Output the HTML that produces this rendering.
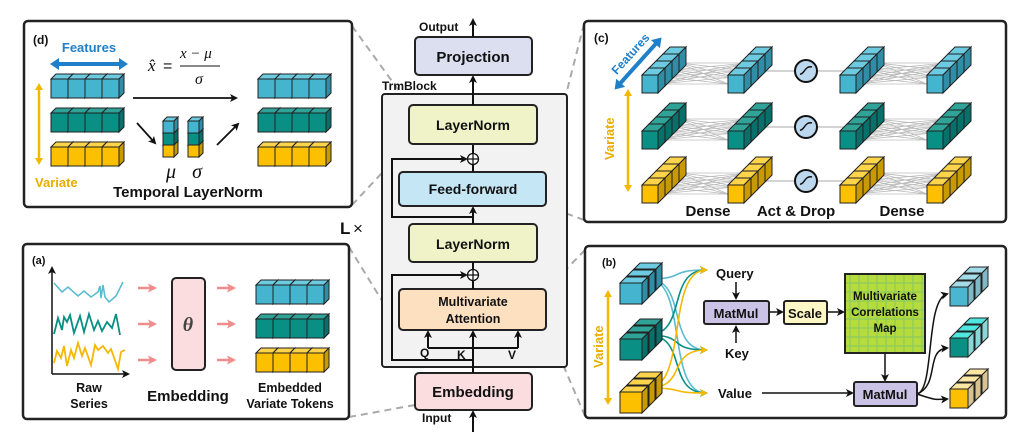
<!DOCTYPE html>
<html><head><meta charset="utf-8"><style>
html,body{margin:0;padding:0;background:#fff;width:1031px;height:434px;overflow:hidden}
svg{display:block}
text{font-family:"Liberation Sans",sans-serif;font-weight:bold;fill:#111}
.s{font-family:"Liberation Serif",serif;font-style:italic;font-weight:normal}
</style></head><body>
<svg id="sv" width="1031" height="434" viewBox="0 0 1031 434" xmlns="http://www.w3.org/2000/svg">
<defs>
<marker id="ah" markerWidth="8" markerHeight="8" refX="6" refY="4" orient="auto" markerUnits="userSpaceOnUse"><path d="M0,0 L8,4 L0,8 L2,4Z" fill="#111"/></marker>
<marker id="ahp" markerWidth="9" markerHeight="9" refX="7" refY="4.5" orient="auto" markerUnits="userSpaceOnUse"><path d="M0,0 L9,4.5 L0,9 L2,4.5Z" fill="#f08c8c"/></marker>
<marker id="ahy" markerWidth="8" markerHeight="8" refX="6" refY="4" orient="auto" markerUnits="userSpaceOnUse"><path d="M0,0 L8,4 L0,8 L2,4Z" fill="#f5b800"/></marker>
<marker id="aht" markerWidth="8" markerHeight="8" refX="6" refY="4" orient="auto" markerUnits="userSpaceOnUse"><path d="M0,0 L8,4 L0,8 L2,4Z" fill="#5bbccf"/></marker>
<marker id="ahg" markerWidth="8" markerHeight="8" refX="6" refY="4" orient="auto" markerUnits="userSpaceOnUse"><path d="M0,0 L8,4 L0,8 L2,4Z" fill="#0a8f85"/></marker>
<pattern id="grid" width="9" height="9" patternUnits="userSpaceOnUse"><rect width="9" height="9" fill="#b5dc3c"/><path d="M0,4H9M4,0V9" stroke="#7cc06a" stroke-width="1.2" opacity="0.7"/></pattern>
</defs>
<g stroke="#aaa" stroke-width="2" stroke-dasharray="7,5" fill="none">
<path d="M352,26 L410,106"/><path d="M352,205 L410,143"/>
<path d="M349,247 L400,330"/><path d="M349,417 L415,405"/>
<path d="M584,24 L546,173"/><path d="M584,220 L546,206"/>
<path d="M585,250 L546,290"/><path d="M585,416 L546,325"/>
</g>
<g stroke="#222" stroke-width="2.5" fill="#fff">
<rect x="24" y="21" width="328" height="186" rx="4"/>
<rect x="23" y="244" width="326" height="175" rx="4"/>
<rect x="584" y="21" width="422" height="201" rx="4"/>
<rect x="585" y="246" width="421" height="172" rx="4"/>
</g>
<rect x="382" y="94" width="185" height="273" rx="3" fill="#f2f2f2" stroke="#222" stroke-width="2"/>
<text x="382" y="90" font-size="12">TrmBlock</text>
<g stroke="#222" stroke-width="2">
<rect x="415" y="37" width="117" height="38" rx="4" fill="#dcdff0"/>
<rect x="409" y="105" width="128" height="39" rx="4" fill="#f0f3c8"/>
<rect x="399" y="172" width="147" height="34" rx="4" fill="#c5e6f5"/>
<rect x="409" y="224" width="128" height="38" rx="4" fill="#f0f3c8"/>
<rect x="399" y="289" width="147" height="41" rx="4" fill="#fde0c0"/>
<rect x="415" y="373" width="117" height="37" rx="4" fill="#fbdde0"/>
</g>
<g stroke="#111" stroke-width="2" fill="none">
<path d="M473,373 V332" marker-end="url(#ah)"/>
<path d="M428,348 V332" marker-end="url(#ah)"/><path d="M518,348 V332" marker-end="url(#ah)"/>
<path d="M428,348 H518"/>
<path d="M473,360 H392 V275 H466" marker-end="url(#ah)"/>
<path d="M473,289 V281" /><path d="M473,269 V262"/>
<path d="M473,224 V208" marker-end="url(#ah)"/>
<path d="M473,217 H392 V159 H466" marker-end="url(#ah)"/>
<path d="M473,172 V165"/><path d="M473,153 V145"/>
<path d="M473,105 V77" marker-end="url(#ah)"/>
<path d="M473,37 V20" marker-end="url(#ah)"/>
<path d="M473,432 V412" marker-end="url(#ah)"/>
</g>
<g stroke="#111" stroke-width="1.3" fill="#fff"><circle cx="473" cy="159" r="5.5"/><path d="M467.5,159H478.5M473,153.5V164.5"/><circle cx="473" cy="275" r="5.5"/><path d="M467.5,275H478.5M473,269.5V280.5"/></g>
<text x="473" y="62" font-size="15" text-anchor="middle">Projection</text>
<text x="473" y="130" font-size="14" text-anchor="middle">LayerNorm</text>
<text x="473" y="194" font-size="14" text-anchor="middle">Feed-forward</text>
<text x="473" y="249" font-size="14" text-anchor="middle">LayerNorm</text>
<text x="473" y="306" font-size="12.5" text-anchor="middle">Multivariate</text>
<text x="473" y="323" font-size="12.5" text-anchor="middle">Attention</text>
<text x="473" y="397" font-size="15" text-anchor="middle">Embedding</text>
<text x="419" y="31" font-size="12">Output</text>
<text x="422" y="422" font-size="12">Input</text>
<text x="420" y="357" font-size="12">Q</text><text x="457" y="359" font-size="12">K</text><text x="508" y="359" font-size="12">V</text>
<text x="340" y="234" font-size="17" style="font-weight:bold">L</text><text x="353" y="234" font-size="17" style="font-weight:normal">×</text>

<text x="33" y="44" font-size="12">(d)</text>
<text x="89" y="52" font-size="13" text-anchor="middle" style="fill:#1f7fc8">Features</text>
<path d="M56,64 H122" stroke="#1f7fc8" stroke-width="4"/>
<path d="M50,64 l9,-6 v12z M128,64 l-9,-6 v12z" fill="#1f7fc8"/>
<path d="M39,88 V160" stroke="#f5b800" stroke-width="2.5"/>
<path d="M39,83 l-4,7 h8z M39,165 l-4,-7 h8z" fill="#f5b800"/>
<text x="35" y="187" font-size="13" style="fill:#e8ad00">Variate</text>
<text x="148" y="71" class="s" font-size="17">x̂</text><text x="163" y="71" font-size="16" style="font-weight:normal">=</text>
<text x="180" y="58" class="s" font-size="15">x − μ</text>
<path d="M180,66 H220" stroke="#111" stroke-width="1"/>
<text x="195" y="84" class="s" font-size="16">σ</text>
<path d="M133,98 H236" stroke="#111" stroke-width="1.8" marker-end="url(#ah)"/>
<path d="M137,123 L155,143" stroke="#111" stroke-width="1.8" marker-end="url(#ah)"/>
<path d="M217,145 L238,124" stroke="#111" stroke-width="1.8" marker-end="url(#ah)"/>
<text x="171" y="178" class="s" font-size="20" text-anchor="middle">μ</text>
<text x="197" y="178" class="s" font-size="20" text-anchor="middle">σ</text>
<text x="188" y="197" font-size="15" text-anchor="middle">Temporal LayerNorm</text>

<text x="32" y="264" font-size="11">(a)</text>
<path d="M52,374 V268" stroke="#111" stroke-width="1.5" marker-end="url(#ah)"/>
<path d="M52,374 H128" stroke="#111" stroke-width="1.5" marker-end="url(#ah)"/>
<polyline fill="none" stroke="#5bbccf" stroke-width="1.6" points="54,283 62,292 68,287 78,296 84,291 91,297 98,292 100,286 101,298 103,285 105,297 109,302 116,296 123,282"/>
<polyline fill="none" stroke="#0a8f85" stroke-width="1.8" points="54,334 58,318 62,330 64,317 67,322 70,315 74,333 80,316 84,332 89,314 94,330 98,321 102,331 107,322 112,328 116,314 120,335"/>
<polyline fill="none" stroke="#f5b800" stroke-width="1.8" points="54,363 57,351 61,358 64,346 67,366 71,350 74,358 78,343 82,356 85,348 91,365 95,345 98,350 103,346 108,353 111,349 118,369 121,352 125,350"/>
<g stroke="#f08c8c" stroke-width="2.5"><path d="M138,288 H155" marker-end="url(#ahp)"/><path d="M138,324 H155" marker-end="url(#ahp)"/><path d="M138,360 H155" marker-end="url(#ahp)"/><path d="M217,288 H234" marker-end="url(#ahp)"/><path d="M217,324 H234" marker-end="url(#ahp)"/><path d="M217,360 H234" marker-end="url(#ahp)"/></g>
<rect x="172" y="278" width="33" height="92" rx="4" fill="#fbdde0" stroke="#222" stroke-width="2"/>
<text x="188" y="331" class="s" font-size="20" text-anchor="middle" style="font-weight:bold;fill:#444">θ</text>
<text x="89" y="392" font-size="12.5" text-anchor="middle">Raw</text>
<text x="89" y="408" font-size="12.5" text-anchor="middle">Series</text>
<text x="188" y="401" font-size="15" text-anchor="middle">Embedding</text>
<text x="290" y="392" font-size="12.5" text-anchor="middle">Embedded</text>
<text x="290" y="408" font-size="12.5" text-anchor="middle">Variate Tokens</text>

<text x="594" y="42" font-size="12">(c)</text>
<g id="cz"></g>
<g transform="translate(616,88) rotate(-48)"><path d="M4,0 H62" stroke="#1f7fc8" stroke-width="4"/><path d="M-2,0 l9,-6 v12z M68,0 l-9,-6 v12z" fill="#1f7fc8"/><text x="10" y="-8" font-size="12" style="fill:#1f7fc8">Features</text></g>
<path d="M628,94 V186" stroke="#f5b800" stroke-width="2.5"/>
<path d="M628,89 l-4,7 h8z M628,192 l-4,-7 h8z" fill="#f5b800"/>
<text transform="translate(614,160) rotate(-90)" font-size="13" style="fill:#e8ad00">Variate</text>
<text x="708" y="216" font-size="15" text-anchor="middle">Dense</text>
<text x="796" y="216" font-size="15" text-anchor="middle">Act &amp; Drop</text>
<text x="902" y="216" font-size="15" text-anchor="middle">Dense</text>

<text x="602" y="266" font-size="11">(b)</text>
<path d="M608,295 V400" stroke="#f5b800" stroke-width="2.5"/>
<path d="M608,290 l-4,7 h8z M608,405 l-4,-7 h8z" fill="#f5b800"/>
<text transform="translate(603,368) rotate(-90)" font-size="13" style="fill:#e8ad00">Variate</text>
<g id="bz"></g>
<text x="716" y="278" font-size="13">Query</text>
<text x="725" y="358" font-size="13">Key</text>
<text x="718" y="398" font-size="13">Value</text>
<g stroke="#111" stroke-width="1.5" fill="none">
<path d="M736,282 V298" marker-end="url(#ah)"/><path d="M736,343 V327" marker-end="url(#ah)"/>
<path d="M769,312 H782" marker-end="url(#ah)"/><path d="M827,312 H843" marker-end="url(#ah)"/>
<path d="M885,353 V380" marker-end="url(#ah)"/><path d="M762,393 H852" marker-end="url(#ah)"/>
<path d="M917,394 C935,390 925,300 947,294" marker-end="url(#ah)"/>
<path d="M917,394 C940,385 925,350 947,348" marker-end="url(#ah)"/>
<path d="M917,394 C935,400 935,400 947,399" marker-end="url(#ah)"/>
</g>
<rect x="704" y="301" width="65" height="23" rx="2" fill="#cbc3e6" stroke="#222" stroke-width="2"/>
<rect x="784" y="301" width="43" height="23" rx="2" fill="#fdf7c6" stroke="#222" stroke-width="2"/>
<rect x="845" y="274" width="80" height="79" fill="url(#grid)" stroke="#222" stroke-width="2"/>
<rect x="854" y="382" width="63" height="24" rx="2" fill="#cbc3e6" stroke="#222" stroke-width="2"/>
<text x="736" y="318" font-size="13" text-anchor="middle">MatMul</text>
<text x="805" y="318" font-size="13" text-anchor="middle">Scale</text>
<text x="885" y="300" font-size="11.5" text-anchor="middle">Multivariate</text>
<text x="885" y="316" font-size="11.5" text-anchor="middle">Correlations</text>
<text x="885" y="332" font-size="11.5" text-anchor="middle">Map</text>
<text x="885" y="399" font-size="13" text-anchor="middle">MatMul</text>
<g id="hz"></g>
</svg>
<script>
var NS="http://www.w3.org/2000/svg";
var C={b:["#44b4cf","#6ccbe0","#2f8ea6"],t:["#0a8f85","#2fa398","#06706a"],y:["#fcc000","#fdd44a","#c99a00"],
bl:["#4bb6d0","#a4dbe8","#7fb8c6"],tl:["#0a8f85","#4de6e0","#88d8d8"],yl:["#fcc000","#fde7a2","#d7c390"]};
function add(g,tag,at){var e=document.createElementNS(NS,tag);for(var k in at)e.setAttribute(k,at[k]);g.appendChild(e);return e;}
function cube(g,x,y,w,h,d,c){
 add(g,"polygon",{points:[x,y,x+d,y-d,x+w+d,y-d,x+w,y].join(","),fill:c[1],stroke:"#222","stroke-width":1});
 add(g,"polygon",{points:[x+w,y,x+w+d,y-d,x+w+d,y+h-d,x+w,y+h].join(","),fill:c[2],stroke:"#222","stroke-width":1});
 add(g,"rect",{x:x,y:y,width:w,height:h,fill:c[0],stroke:"#222","stroke-width":1});
}
function hbar(g,x,y,w,h,d,c,n){for(var i=0;i<n;i++)cube(g,x+i*w,y,w,h,d,c);}
function dbar(g,x,y,w,h,d,c,n,st){for(var i=n-1;i>=0;i--)cube(g,x+i*st,y-i*st,w,h,d,c);}
function vbar(g,x,y,w,h,d,cs){for(var i=cs.length-1;i>=0;i--)cube(g,x,y+i*h,w,h,d,cs[i]);}
var sv=document.getElementById("sv");
var gd=add(sv,"g",{});
[["b",79],["t",113],["y",147]].forEach(function(r){hbar(gd,51,r[1],17,19,5,C[r[0]],4);hbar(gd,258,r[1],17,19,5,C[r[0]],4);});
vbar(gd,163,121,11,12,4,[C.b,C.t,C.y]);vbar(gd,188,121,11,12,4,[C.b,C.t,C.y]);
[["b",285],["t",319],["y",353]].forEach(function(r){hbar(gd,256,r[1],17,19,5,C[r[0]],4);});
var gc=document.getElementById("cz");
var xs=[642,728,840,927],ys=[75,131,185],cl=["b","t","y"];
ys.forEach(function(y,ri){
 [[0,1],[2,3]].forEach(function(p){
  for(var i=0;i<4;i++)for(var j=0;j<4;j++){add(gc,"line",{x1:xs[p[0]]+16+i*7,y1:y+9-i*7,x2:xs[p[1]]+j*7,y2:y+9-j*7,stroke:"#bbb","stroke-width":0.8});}
 });
 add(gc,"line",{x1:xs[1]+30,y1:y-4,x2:xs[2]+10,y2:y-4,stroke:"#bbb","stroke-width":1.2});
 xs.forEach(function(x){dbar(gc,x,y,16,18,7,C[cl[ri]],4,7);});
 var cx=806,cy=y-4;
 add(gc,"circle",{cx:cx,cy:cy,r:11,fill:"#bcd8ee",stroke:"#111","stroke-width":2});
 add(gc,"path",{d:"M"+(cx-6)+","+(cy+3)+" C"+(cx-2)+","+(cy+4)+" "+(cx-1)+","+(cy-6)+" "+(cx+6)+","+(cy-4),fill:"none",stroke:"#111","stroke-width":1.5});
});
var gb=document.getElementById("bz");
var bys=[283,339,392],bc=["b","t","y"];
var col={b:"#5bbccf",t:"#0a8f85",y:"#f5b800"},mk={b:"aht",t:"ahg",y:"ahy"};
var tg=[[706,270],[706,350],[706,393]];
bys.forEach(function(y,ri){
 var sx=648,sy=y-4,k=bc[ri];
 tg.forEach(function(t){
  add(gb,"path",{d:"M"+sx+","+sy+" C"+(sx+40)+","+(sy)+" "+(t[0]-40)+","+t[1]+" "+t[0]+","+t[1],fill:"none",stroke:col[k],"stroke-width":1.6,"marker-end":"url(#"+mk[k]+")"});
 });
});
bys.forEach(function(y,ri){dbar(gb,620,y,22,21,6,C[bc[ri]],3,7);});
var gh=document.getElementById("hz");
[["bl",287],["tl",338],["yl",389]].forEach(function(r){dbar(gh,950,r[1],18,19,6,C[r[0]],3,7);});
</script>
</body></html>
